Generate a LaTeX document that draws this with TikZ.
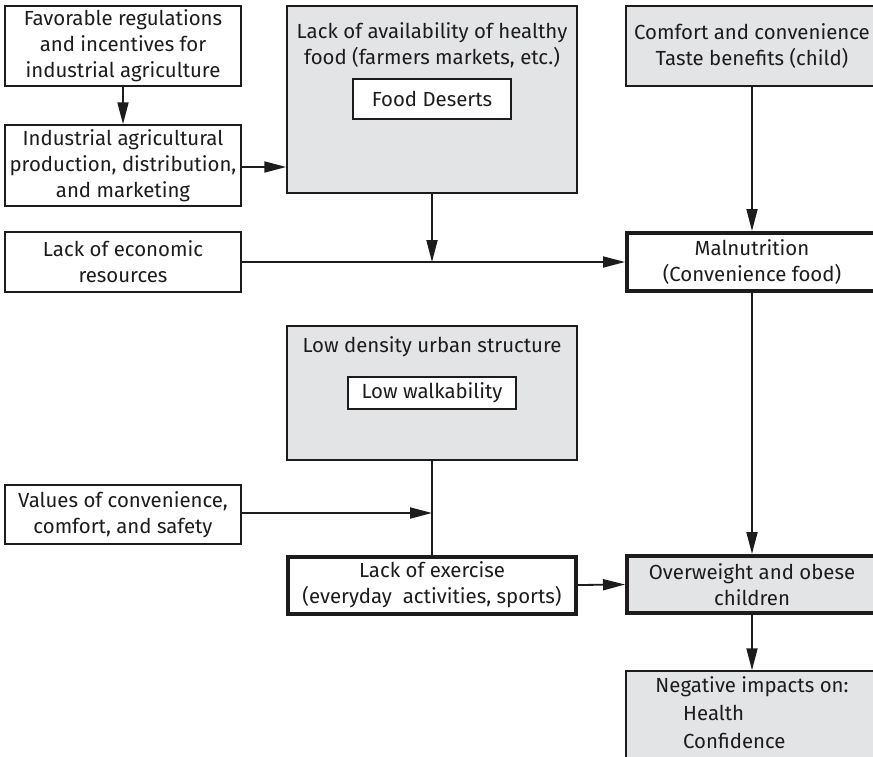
\documentclass[tikz,border=0pt]{standalone}
\usepackage{fontspec}
\setmainfont{Fira Sans}
\usetikzlibrary{arrows.meta}
\definecolor{boxgray}{HTML}{E3E4E6}
\definecolor{ink}{HTML}{1E1B1C}
\begin{document}
\begin{tikzpicture}[x=1pt,y=-1pt,
  every node/.style={font=\fontsize{20.4}{26}\selectfont, text=ink},
  box/.style={draw=ink, line width=1.5pt, inner sep=0pt, align=center},
  graybox/.style={box, fill=boxgray},
  thickbox/.style={box, line width=4pt},
  txt/.style={inner sep=0pt, align=center},
  arr/.style={draw=ink, line width=1.8pt, -{Triangle[length=22pt,width=11pt]}},
  ln/.style={draw=ink, line width=1.8pt}
]
\useasboundingbox (0,0) rectangle (873,756);
\clip (0,0) rectangle (873,756);
\fill[white] (0,0) rectangle (873,756);

% left column
\node[box, minimum width=236pt, minimum height=80pt] (A) at (123,46)
  {Favorable regulations\\and incentives for\\industrial agriculture};
\node[box, minimum width=236pt, minimum height=81pt] (B) at (123,165.5)
  {Industrial agricultural\\production, distribution,\\and marketing};
\node[box, minimum width=236pt, minimum height=60pt] (E) at (123,262)
  {Lack of economic\\resources};
\node[box, minimum width=236pt, minimum height=59pt] (V) at (123,514.5)
  {Values of convenience,\\comfort, and safety};

% middle column
\node[graybox, minimum width=290pt, minimum height=187pt] (C) at (432,99.5) {};
\node[txt] (Ct) at (432,45) {Lack of availability of healthy\\food (farmers markets, etc.)};
\node[box, fill=white, minimum width=158pt, minimum height=40pt] (FD) at (432,99) {Food Deserts};

\node[graybox, minimum width=290pt, minimum height=134pt] (L) at (432,393) {};
\node[txt] (Lt) at (432,347) {Low density urban structure};
\node[box, fill=white, minimum width=168pt, minimum height=32pt] (LW) at (432,393) {Low walkability};

\node[thickbox, fill=white, minimum width=288pt, minimum height=57pt] (X) at (432,585)
  {Lack of exercise\\(everyday\ \ activities, sports)};

% right column
\node[graybox, minimum width=252pt, minimum height=80pt] (D) at (752,46)
  {Comfort and convenience\\Taste benefits (child)};
\node[thickbox, fill=white, minimum width=250pt, minimum height=58pt] (M) at (752,262)
  {Malnutrition\\(Convenience food)};
\node[thickbox, fill=boxgray, minimum width=250pt, minimum height=57pt] (O) at (752,584.5)
  {Overweight and obese\\children};
\node[graybox, minimum width=252pt, minimum height=100pt] (N) at (752,721) {};
\node[txt] (Nt) at (752,687) {Negative impacts on:};
\node[txt, anchor=west] (Nh) at (683,713) {Health};
\node[txt, anchor=west] (Nc) at (683,741) {Confidence};

% connectors
\coordinate (J1) at (432,262);
\coordinate (J2) at (432,513);
\draw[arr] (A.south) -- (B.north);
\draw[arr] (B.east |- 0,167) -- (C.west |- 0,167);
\draw[arr] (C.south) -- (J1);
\draw[arr] (E.east) -- (M.west);
\draw[arr] (D.south) -- (M.north);
\draw[arr] (M.south) -- (O.north);
\draw[ln] (L.south) -- (X.north);
\draw[arr] (V.east |- J2) -- (J2);
\draw[arr] (X.east) -- (O.west);
\draw[arr] (O.south) -- (N.north);
\end{tikzpicture}
\end{document}
